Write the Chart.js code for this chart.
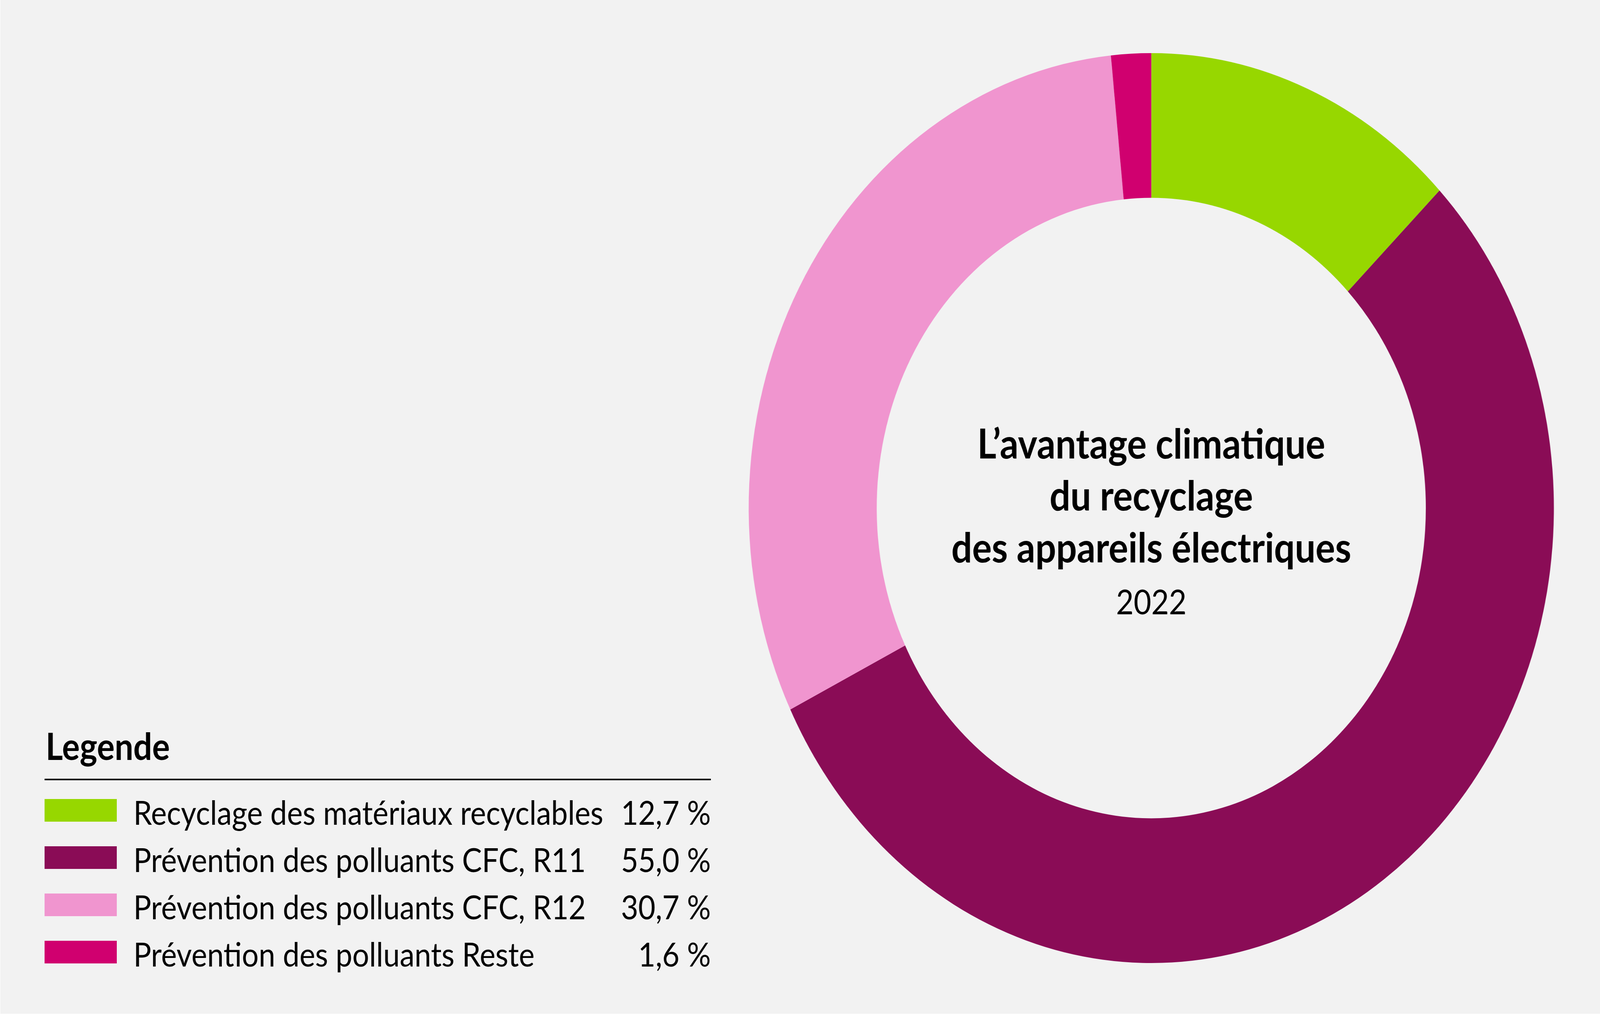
<!DOCTYPE html>
<html>
<head>
<meta charset="utf-8">
<script src="https://cdn.jsdelivr.net/npm/chart.js@4"></script>
<style>
  html, body { margin: 0; padding: 0; background: #ffffff; overflow: hidden; }
</style>
</head>
<body>
<!-- le dessin est fait sur 4630 x 2617 puis etire sur toute la fenetre -->
<canvas id="graficoAnneau" width="4630" height="2617" style="display:block;width:100vw;height:100vh;"></canvas>
<script>
// donnees du graphique
var categories = [
    "Recyclage des matériaux recyclables",
    "Prévention des polluants CFC, R11",
    "Prévention des polluants CFC, R12",
    "Prévention des polluants Reste"
];
var valeurs = [12.7, 55.0, 30.7, 1.6];
var couleurs = ["#97d700", "#8a0c56", "#f095cf", "#d0006f"];
var titreLignes = ["L\u2019avantage climatique", "du recyclage", "des appareils électriques"];
var annee = "2022";
var titreLegende = "Legende";

function formatPct(v) {
    return v.toFixed(1).replace(".", ",") + " %";
}

// fond gris
var fond = {
    id: 'fond',
    beforeDraw: function(chart) {
        var ctx = chart.ctx;
        ctx.save();
        ctx.fillStyle = "#ffffff";
        ctx.fillRect(0, 0, chart.width, chart.height);
        ctx.fillStyle = "#f2f2f2";
        ctx.fillRect(1, 0, chart.width - 1, 2596);
        ctx.restore();
    }
};

// texte au centre de l'anneau
var texteCentre = {
    id: 'texteCentre',
    afterDraw: function(chart) {
        var ctx = chart.ctx;
        var arc = chart.getDatasetMeta(0).data[0];
        var cx = arc.x, cy = arc.y;
        ctx.save();
        ctx.fillStyle = "#000000";
        ctx.textAlign = "center";
        ctx.textBaseline = "alphabetic";
        ctx.font = "bold 106px Lato";
        var decalages = [-127, 6, 139];
        for (var i = 0; i < titreLignes.length; i++) {
            ctx.fillText(titreLignes[i], cx, cy + decalages[i]);
        }
        ctx.font = "88px Lato";
        ctx.fillText(annee, cx, cy + 272);
        ctx.restore();
    }
};

// legende maison a gauche
var legendeMaison = {
    id: 'legendeMaison',
    afterDraw: function(chart) {
        var ctx = chart.ctx;
        var gauche = 129, droite = 2057;
        ctx.save();
        ctx.fillStyle = "#000000";
        ctx.textBaseline = "alphabetic";
        ctx.textAlign = "left";
        ctx.font = "bold 96px Lato";
        ctx.fillText(titreLegende, 132, 1946);

        ctx.fillRect(gauche, 1994, droite - gauche, 4);

        var labels = chart.data.labels;
        var data = chart.data.datasets[0].data;
        var cols = chart.data.datasets[0].backgroundColor;
        for (var i = 0; i < labels.length; i++) {
            var haut = 2046 + i * 121;
            ctx.fillStyle = cols[i];
            ctx.fillRect(gauche, haut, 209, 58);
            ctx.fillStyle = "#000000";
            ctx.font = "86px Lato";
            ctx.textAlign = "left";
            ctx.fillText(labels[i], 386, haut + 66);
            ctx.textAlign = "right";
            ctx.fillText(formatPct(data[i]), droite, haut + 66);
        }
        ctx.restore();
    }
};

var contexte = document.getElementById('graficoAnneau').getContext('2d');
var graphique = new Chart(contexte, {
    type: 'doughnut',
    data: {
        labels: categories,
        datasets: [{
            data: valeurs,
            backgroundColor: couleurs,
            borderWidth: 0,
            hoverOffset: 0
        }]
    },
    options: {
        responsive: false,
        animation: false,
        devicePixelRatio: 1,
        cutout: '68.2%',
        layout: {
            padding: { left: 2166, right: 133, top: 136, bottom: 151 }
        },
        plugins: {
            legend: { display: false },
            tooltip: { enabled: false }
        }
    },
    plugins: [fond, texteCentre, legendeMaison]
});
</script>
</body>
</html>
